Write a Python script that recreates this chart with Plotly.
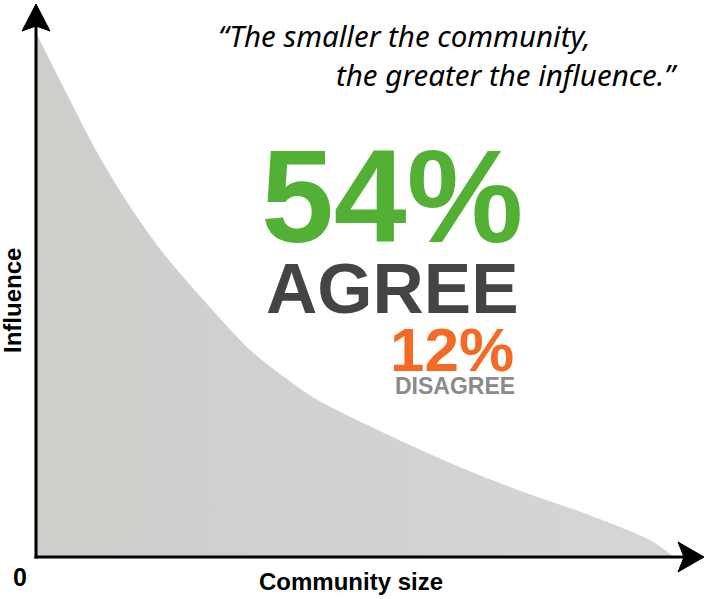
import plotly.graph_objects as go

# ---- data (community size vs influence, relative units) ----
community_size = [0, 4.2, 9.5, 14.6, 19.7, 25.0, 33.2, 38.4, 43.6, 53.9, 64.3, 74.7, 84.9, 95.3, 99.0]
influence = [100, 89.7, 77.1, 66.8, 58.0, 50.4, 39.5, 34.4, 30.0, 23.7, 17.9, 12.8, 8.4, 3.2, 0]

quote_line1 = "\u201cThe smaller the community,"
quote_line2 = "the greater the influence.\u201d"
agree_pct = "54%"
agree_label = "AGREE"
disagree_pct = "12%"
disagree_label = "DISAGREE"
x_title = "Community size"
y_title = "Influence"
origin_label = "0"

W, H = 716, 599
X0PX, XSCALE = 36, 6.44
Y0PX, YSCALE = 557, 5.24


def px(xp):
    return xp / W


def py(yp):
    return 1 - yp / H


fig = go.Figure()
fig.add_trace(go.Scatter(
    x=community_size, y=influence, mode="lines",
    line=dict(color="rgb(208,208,206)", width=0.5, shape="spline", smoothing=0.8),
    fill="tozeroy",
    fillgradient=dict(type="horizontal",
                      colorscale=[[0, "rgb(205,207,203)"], [1, "rgb(213,213,213)"]]),
    hoverinfo="skip", showlegend=False,
))

shapes = [
    # y axis
    dict(type="line", xref="paper", yref="paper", x0=px(36), x1=px(36), y0=py(558.5), y1=py(22),
         line=dict(color="black", width=3)),
    # x axis
    dict(type="line", xref="paper", yref="paper", x0=px(34.5), x1=px(688), y0=py(557), y1=py(557),
         line=dict(color="black", width=3)),
    # y arrow head
    dict(type="path", xref="paper", yref="paper",
         path=f"M {px(36)},{py(4)} L {px(50)},{py(31)} L {px(36)},{py(26)} L {px(22)},{py(31)} Z",
         fillcolor="black", line=dict(color="black", width=1)),
    # x arrow head
    dict(type="path", xref="paper", yref="paper",
         path=f"M {px(704)},{py(557)} L {px(678)},{py(572)} L {px(684)},{py(557)} L {px(678)},{py(542)} Z",
         fillcolor="black", line=dict(color="black", width=1)),
]

arial = "Liberation Sans, Arial, sans-serif"
quote_font = "Noto Sans, Lato, sans-serif"

annotations = [
    dict(text=f"<i>{quote_line1}</i>", x=px(216), y=py(36), xanchor="left", yanchor="middle",
         font=dict(family=quote_font, size=29.5, color="black")),
    dict(text=f"<i>{quote_line2}</i>", x=px(680), y=py(75), xanchor="right", yanchor="middle",
         font=dict(family=quote_font, size=29.5, color="black")),
    dict(text=f"<b>{agree_pct}</b>", x=px(392), y=py(196), xanchor="center", yanchor="middle",
         font=dict(family=arial, size=131, color="#52b035")),
    dict(text=f"<b>{agree_label}</b>", x=px(392), y=py(288), xanchor="center", yanchor="middle",
         font=dict(family=arial, size=71, color="#444444")),
    dict(text=f"<b>{disagree_pct}</b>", x=px(452), y=py(349), xanchor="center", yanchor="middle",
         font=dict(family=arial, size=62, color="#f26a23")),
    dict(text=f"<b>{disagree_label}</b>", x=px(455), y=py(386), xanchor="center", yanchor="middle",
         font=dict(family=arial, size=23, color="#8a8a8a")),
    dict(text=f"<b>{x_title}</b>", x=px(351), y=py(581), xanchor="center", yanchor="middle",
         font=dict(family=arial, size=24, color="black")),
    dict(text=f"<b>{origin_label}</b>", x=px(20), y=py(577), xanchor="center", yanchor="middle",
         font=dict(family=arial, size=25, color="black")),
    dict(text=f"<b>{y_title}</b>", x=px(12), y=py(301), xanchor="center", yanchor="middle",
         textangle=-90, font=dict(family=arial, size=24, color="black")),
]
for a in annotations:
    a.update(xref="paper", yref="paper", showarrow=False)

fig.update_layout(
    width=W, height=H,
    margin=dict(l=0, r=0, t=0, b=0),
    paper_bgcolor="white", plot_bgcolor="white",
    xaxis=dict(range=[-X0PX / XSCALE, (W - X0PX) / XSCALE], visible=False, fixedrange=True),
    yaxis=dict(range=[(Y0PX - H) / YSCALE, Y0PX / YSCALE], visible=False, fixedrange=True),
    shapes=shapes, annotations=annotations,
)

fig.write_html("out.html", config={"displayModeBar": False},
               post_script="document.body.style.margin='0';document.body.style.overflow='hidden';")
